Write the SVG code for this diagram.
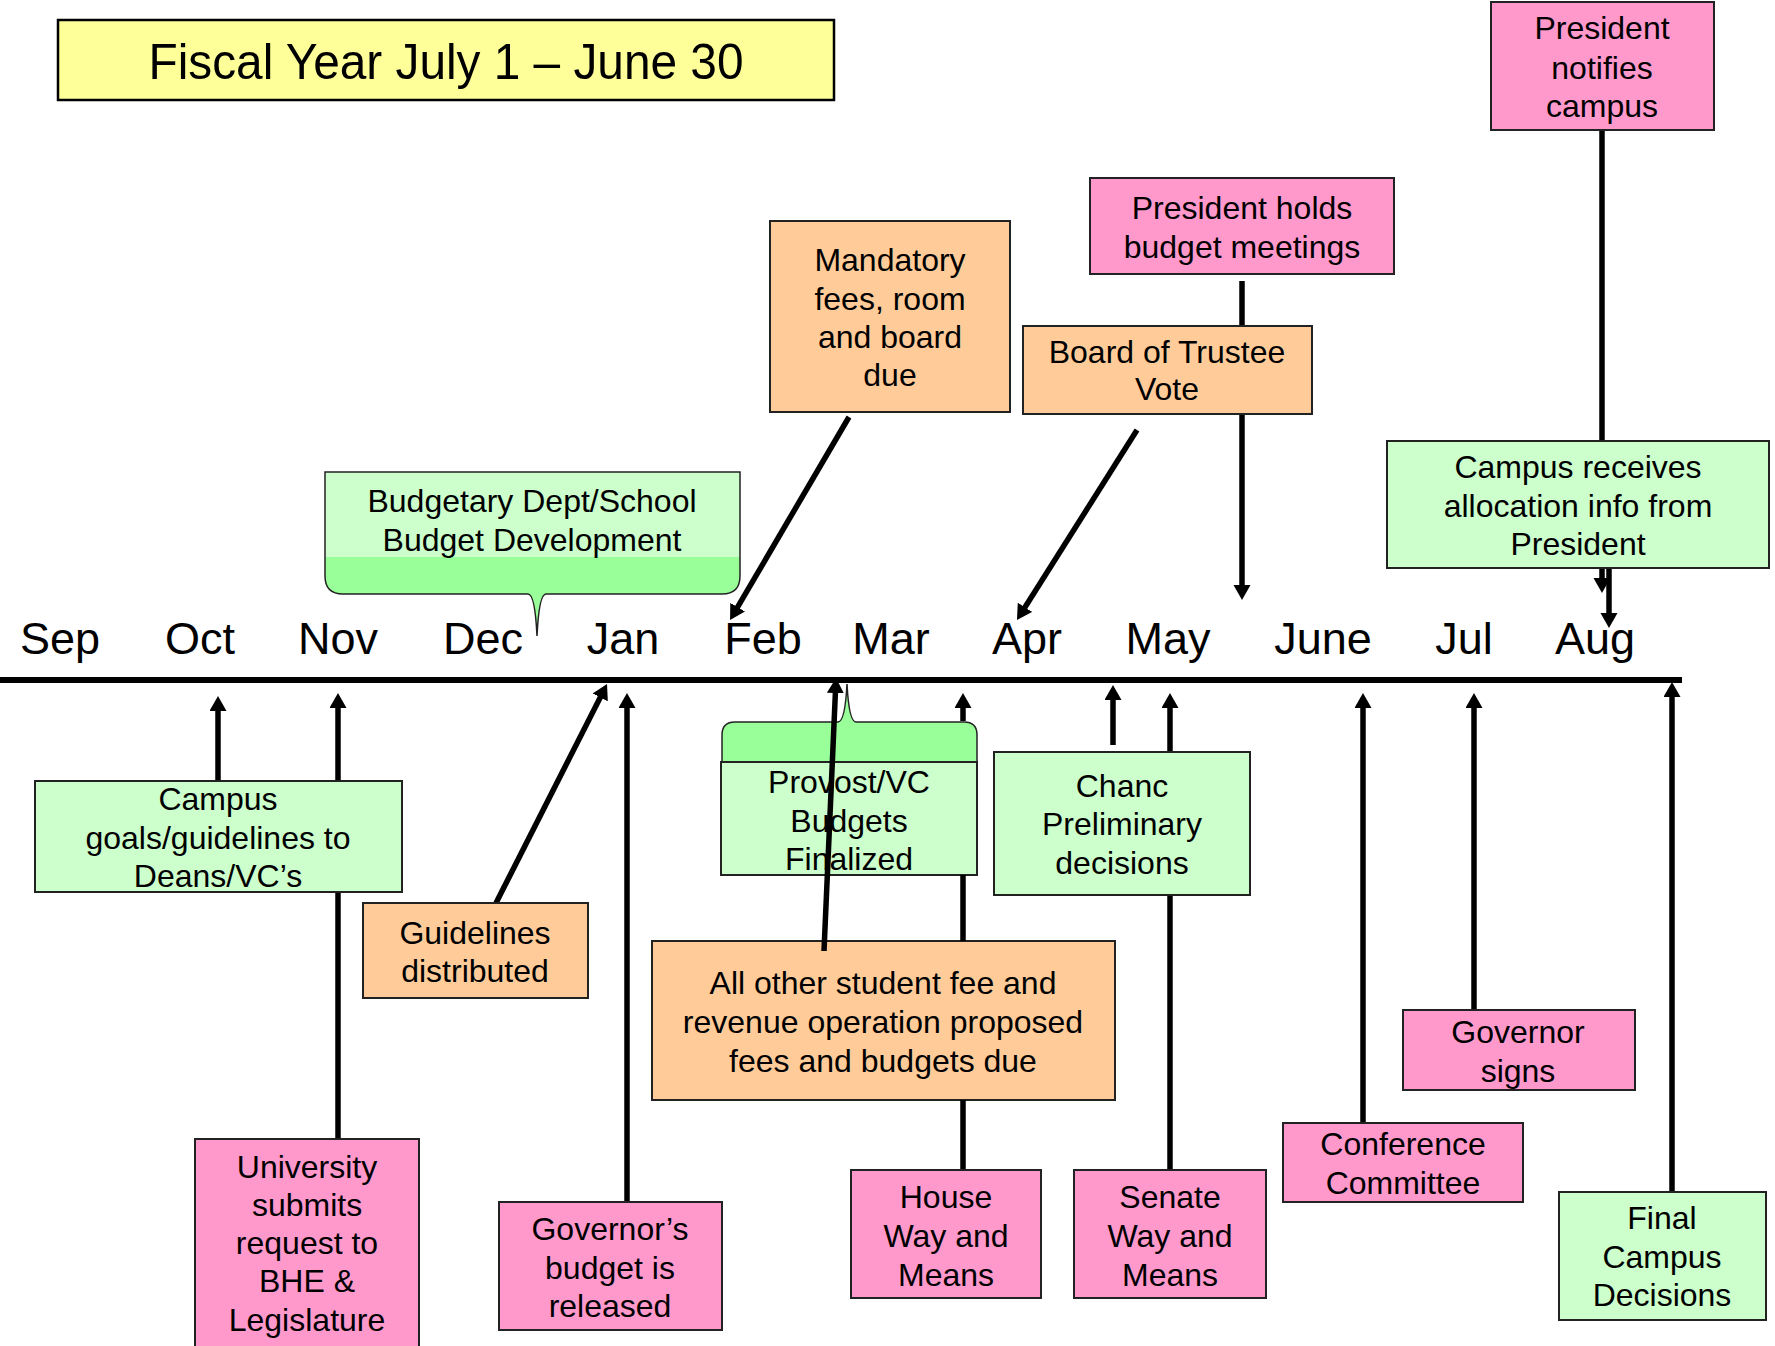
<svg xmlns="http://www.w3.org/2000/svg" width="1775" height="1346" viewBox="0 0 1775 1346">
  <style>
    text { font-family: "Liberation Sans", Arial, sans-serif; fill: #000; }
    .lbl { font-size: 32px; text-anchor: middle; }
    .month { font-size: 45px; text-anchor: middle; }
    .box { stroke: #222; stroke-width: 2; }
    .green { fill: #CCFFCC; }
    .pink { fill: #FF99CC; }
    .orange { fill: #FFCC99; }
    .brace { fill: #99FF99; stroke: #222; stroke-width: 1.5; }
    .arrow { fill: none; stroke: #000; stroke-width: 5.5; marker-end: url(#head); }
  </style>
  <defs>
    <marker id="head" markerUnits="userSpaceOnUse" markerWidth="16" markerHeight="18" refX="5" refY="8.5" orient="auto">
      <path d="M0,0 L15,8.5 L0,17 Z" fill="#000"/>
    </marker>
  </defs>

  <rect width="1775" height="1346" fill="#fff"/>

  <!-- title banner -->
  <g id="title">
    <rect x="58" y="20" width="776" height="80" fill="#FFFF99" stroke="#000" stroke-width="2.5"/>
    <text x="446" y="79" font-size="50" text-anchor="middle" textLength="595" lengthAdjust="spacingAndGlyphs">Fiscal Year July 1 – June 30</text>
  </g>

  <!-- timeline axis and months -->
  <g id="timeline">
    <line x1="0" y1="680" x2="1682" y2="680" stroke="#000" stroke-width="6"/>
    <text class="month" x="60" y="654">Sep</text>
    <text class="month" x="200" y="654">Oct</text>
    <text class="month" x="338" y="654">Nov</text>
    <text class="month" x="483" y="654">Dec</text>
    <text class="month" x="623" y="654">Jan</text>
    <text class="month" x="763" y="654">Feb</text>
    <text class="month" x="891" y="654">Mar</text>
    <text class="month" x="1027" y="654">Apr</text>
    <text class="month" x="1168" y="654">May</text>
    <text class="month" x="1323" y="654">June</text>
    <text class="month" x="1464" y="654">Jul</text>
    <text class="month" x="1595" y="654">Aug</text>
  </g>

  <!-- boxes that sit underneath the connectors -->
  <g id="provost">
    <path class="brace" d="M722,762 L722,735 Q722,722 735,722 L838,722 Q845,722 847,684 Q849,722 856,722 L964,722 Q977,722 977,735 L977,762 Z"/>
    <rect class="box green" x="721" y="762" width="256" height="113"/>
    <text class="lbl" x="849" y="793">Provost/VC</text>
    <text class="lbl" x="849" y="832">Budgets</text>
    <text class="lbl" x="849" y="870">Finalized</text>
  </g>
  <g id="all-other-fees">
    <rect class="box orange" x="652" y="941" width="463" height="159"/>
    <text class="lbl" x="883" y="994">All other student fee and</text>
    <text class="lbl" x="883" y="1033">revenue operation proposed</text>
    <text class="lbl" x="883" y="1072">fees and budgets due</text>
  </g>

  <!-- connectors -->
  <g id="connectors">
    <path class="arrow" d="M218,781 L218,706"/>
    <path class="arrow" d="M338,1139 L338,703"/>
    <path class="arrow" d="M496,903 L602.5,692.9"/>
    <path class="arrow" d="M627,1202 L627,703"/>
    <path class="arrow" d="M824,951 L835.6,688"/>
    <path class="arrow" d="M963,1170 L963,1100 M963,941 L963,875 M963,721 L963,703"/>
    <path class="arrow" d="M1113,745 L1113,695"/>
    <path class="arrow" d="M1170,1170 L1170,703"/>
    <path class="arrow" d="M1363,1123 L1363,703"/>
    <path class="arrow" d="M1474,1010 L1474,703"/>
    <path class="arrow" d="M1672,1192 L1672,692"/>
    <path class="arrow" d="M849,417 L735.1,611.4"/>
    <path class="arrow" d="M1137,430 L1022.3,611.5"/>
    <path class="arrow" d="M1242,281 L1242,590"/>
    <path class="arrow" d="M1602,130 L1602,583"/>
    <path class="arrow" d="M1609,568 L1609,618"/>
  </g>

  <!-- nodes -->
  <g id="budget-development">
    <path d="M325,472 L740,472 L740,576 Q740,594 722,594 L546,594 Q539,594 537,636 Q535,594 528,594 L343,594 Q325,594 325,576 Z" fill="#99FF99"/>
    <rect x="325" y="472" width="415" height="85" fill="#CCFFCC"/>
    <path d="M325,472 L740,472 L740,576 Q740,594 722,594 L546,594 Q539,594 537,636 Q535,594 528,594 L343,594 Q325,594 325,576 Z" fill="none" stroke="#222" stroke-width="1.5"/>
    <text class="lbl" x="532" y="512">Budgetary Dept/School</text>
    <text class="lbl" x="532" y="551">Budget Development</text>
  </g>

  <g id="campus-goals">
    <rect class="box green" x="35" y="781" width="367" height="111"/>
    <text class="lbl" x="218" y="810">Campus</text>
    <text class="lbl" x="218" y="849">goals/guidelines to</text>
    <text class="lbl" x="218" y="887">Deans/VC’s</text>
  </g>

  <g id="university-request">
    <rect class="box pink" x="195" y="1139" width="224" height="220"/>
    <text class="lbl" x="307" y="1178">University</text>
    <text class="lbl" x="307" y="1216">submits</text>
    <text class="lbl" x="307" y="1254">request to</text>
    <text class="lbl" x="307" y="1292">BHE &amp;</text>
    <text class="lbl" x="307" y="1331">Legislature</text>
  </g>

  <g id="guidelines">
    <rect class="box orange" x="363" y="903" width="225" height="95"/>
    <text class="lbl" x="475" y="944">Guidelines</text>
    <text class="lbl" x="475" y="982">distributed</text>
  </g>

  <g id="governor-budget">
    <rect class="box pink" x="499" y="1202" width="223" height="128"/>
    <text class="lbl" x="610" y="1240">Governor’s</text>
    <text class="lbl" x="610" y="1279">budget is</text>
    <text class="lbl" x="610" y="1317">released</text>
  </g>

  <g id="mandatory-fees">
    <rect class="box orange" x="770" y="221" width="240" height="191"/>
    <text class="lbl" x="890" y="271">Mandatory</text>
    <text class="lbl" x="890" y="310">fees, room</text>
    <text class="lbl" x="890" y="348">and board</text>
    <text class="lbl" x="890" y="386">due</text>
  </g>

  <g id="president-meetings">
    <rect class="box pink" x="1090" y="178" width="304" height="96"/>
    <text class="lbl" x="1242" y="219">President holds</text>
    <text class="lbl" x="1242" y="258">budget meetings</text>
  </g>

  <g id="trustee-vote">
    <rect class="box orange" x="1023" y="326" width="289" height="88"/>
    <text class="lbl" x="1167" y="363">Board of Trustee</text>
    <text class="lbl" x="1167" y="400">Vote</text>
  </g>

  <g id="president-notifies">
    <rect class="box pink" x="1491" y="2" width="223" height="128"/>
    <text class="lbl" x="1602" y="39">President</text>
    <text class="lbl" x="1602" y="79">notifies</text>
    <text class="lbl" x="1602" y="117">campus</text>
  </g>

  <g id="campus-allocation">
    <rect class="box green" x="1387" y="441" width="382" height="127"/>
    <text class="lbl" x="1578" y="478">Campus receives</text>
    <text class="lbl" x="1578" y="517">allocation info from</text>
    <text class="lbl" x="1578" y="555">President</text>
  </g>

  <g id="house-ways-means">
    <rect class="box pink" x="851" y="1170" width="190" height="128"/>
    <text class="lbl" x="946" y="1208">House</text>
    <text class="lbl" x="946" y="1247">Way and</text>
    <text class="lbl" x="946" y="1286">Means</text>
  </g>

  <g id="chanc-preliminary">
    <rect class="box green" x="994" y="752" width="256" height="143"/>
    <text class="lbl" x="1122" y="797">Chanc</text>
    <text class="lbl" x="1122" y="835">Preliminary</text>
    <text class="lbl" x="1122" y="874">decisions</text>
  </g>

  <g id="senate-ways-means">
    <rect class="box pink" x="1074" y="1170" width="192" height="128"/>
    <text class="lbl" x="1170" y="1208">Senate</text>
    <text class="lbl" x="1170" y="1247">Way and</text>
    <text class="lbl" x="1170" y="1286">Means</text>
  </g>

  <g id="conference-committee">
    <rect class="box pink" x="1283" y="1123" width="240" height="79"/>
    <text class="lbl" x="1403" y="1155">Conference</text>
    <text class="lbl" x="1403" y="1194">Committee</text>
  </g>

  <g id="governor-signs">
    <rect class="box pink" x="1403" y="1010" width="232" height="80"/>
    <text class="lbl" x="1518" y="1043">Governor</text>
    <text class="lbl" x="1518" y="1082">signs</text>
  </g>

  <g id="final-decisions">
    <rect class="box green" x="1559" y="1192" width="207" height="128"/>
    <text class="lbl" x="1662" y="1229">Final</text>
    <text class="lbl" x="1662" y="1268">Campus</text>
    <text class="lbl" x="1662" y="1306">Decisions</text>
  </g>
</svg>
